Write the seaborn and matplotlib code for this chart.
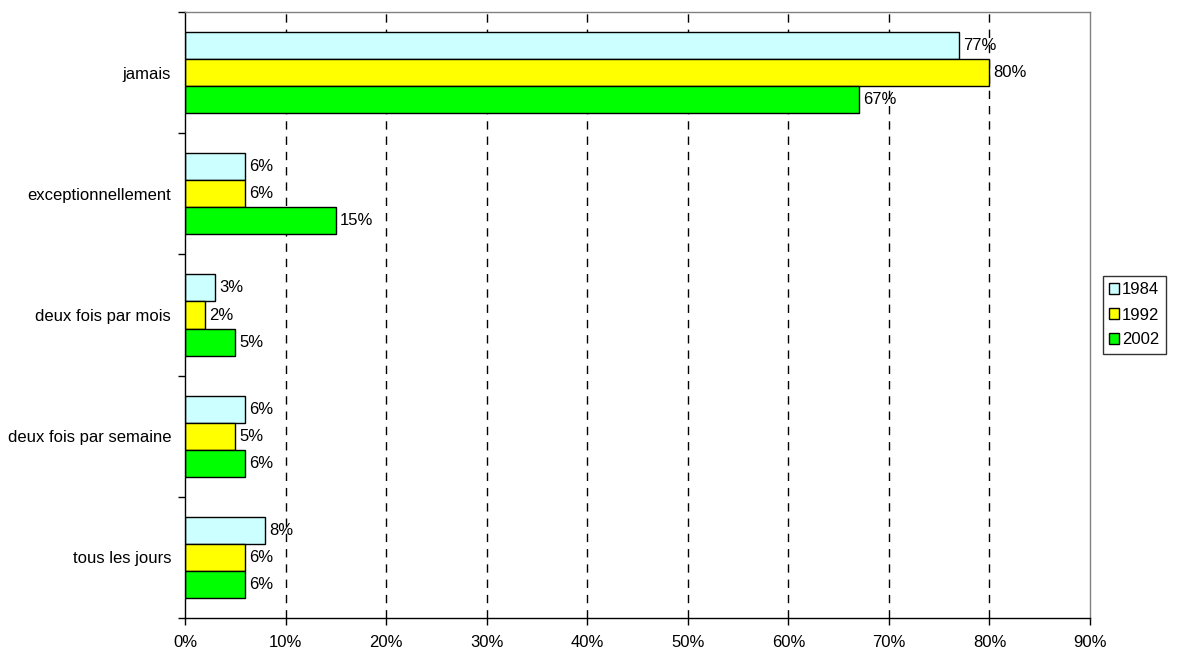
import matplotlib.pyplot as plt
import seaborn as sns
import pandas as pd
from matplotlib.ticker import PercentFormatter

categories = ["jamais", "exceptionnellement", "deux fois par mois",
              "deux fois par semaine", "tous les jours"]
years = ["1984", "1992", "2002"]
v1984 = [77, 6, 3, 6, 8]
v1992 = [80, 6, 2, 5, 6]
v2002 = [67, 15, 5, 6, 6]
colors = ["#ccffff", "#ffff00", "#00ff00"]

rows = []
for year, vals in zip(years, [v1984, v1992, v2002]):
    for cat, v in zip(categories, vals):
        rows.append({"cat": cat, "year": year, "val": v})
df = pd.DataFrame(rows)

sns.set_style("white")
plt.rcParams['font.family'] = ['Liberation Sans', 'DejaVu Sans']
plt.rcParams['text.color'] = 'black'
plt.rcParams['xtick.color'] = 'black'
plt.rcParams['ytick.color'] = 'black'

fs = 12

fig = plt.figure(figsize=(11.88, 6.51), dpi=100)
ax = fig.add_axes([185 / 1188, 1 - 618 / 651, 905 / 1188, 606 / 651])

sns.barplot(data=df, y="cat", x="val", hue="year", order=categories,
            hue_order=years, palette=colors, orient="h", width=0.67,
            edgecolor="black", linewidth=1, saturation=1, ax=ax)

for cont in ax.containers:
    ax.bar_label(cont, labels=["{:.0f}%".format(w) for w in cont.datavalues],
                 padding=3, fontsize=fs, color="black")

ax.set_xlim(0, 90)
ax.set_ylim(4.5, -0.5)
ax.set_xticks(range(0, 91, 10))
ax.xaxis.set_major_formatter(PercentFormatter(decimals=0))
ax.set_yticks([i + 0.5 for i in range(-1, 5)], minor=False)
ax.set_yticklabels([])
ax.set_yticks(range(5), minor=True)
ax.set_yticklabels(categories, minor=True)
ax.tick_params(axis="y", which="major", direction="out", length=5, width=1,
               color="black", left=True)
ax.tick_params(axis="y", which="minor", length=0, pad=10, labelsize=fs)
ax.tick_params(axis="x", direction="out", length=5, width=1, color="black",
               bottom=True, labelsize=fs, pad=7)
ax.set_xlabel("")
ax.set_ylabel("")

for x in range(10, 90, 10):
    ax.axvline(x, color="black", linestyle=(0, (6, 5)), linewidth=1, zorder=0)

ax.spines["left"].set_color("black")
ax.spines["bottom"].set_color("black")
ax.spines["top"].set_color("#808080")
ax.spines["right"].set_color("#808080")
for s in ax.spines.values():
    s.set_linewidth(1)

leg = ax.legend(loc="center left", bbox_to_anchor=(1.014, 0.5), frameon=True,
                fancybox=False, edgecolor="black", fontsize=fs,
                handlelength=0.6, handleheight=0.6, handletextpad=0.15,
                borderpad=0.4, borderaxespad=0, labelspacing=0.6)
leg.get_frame().set_linewidth(1)

plt.savefig("out.png", dpi=100)
